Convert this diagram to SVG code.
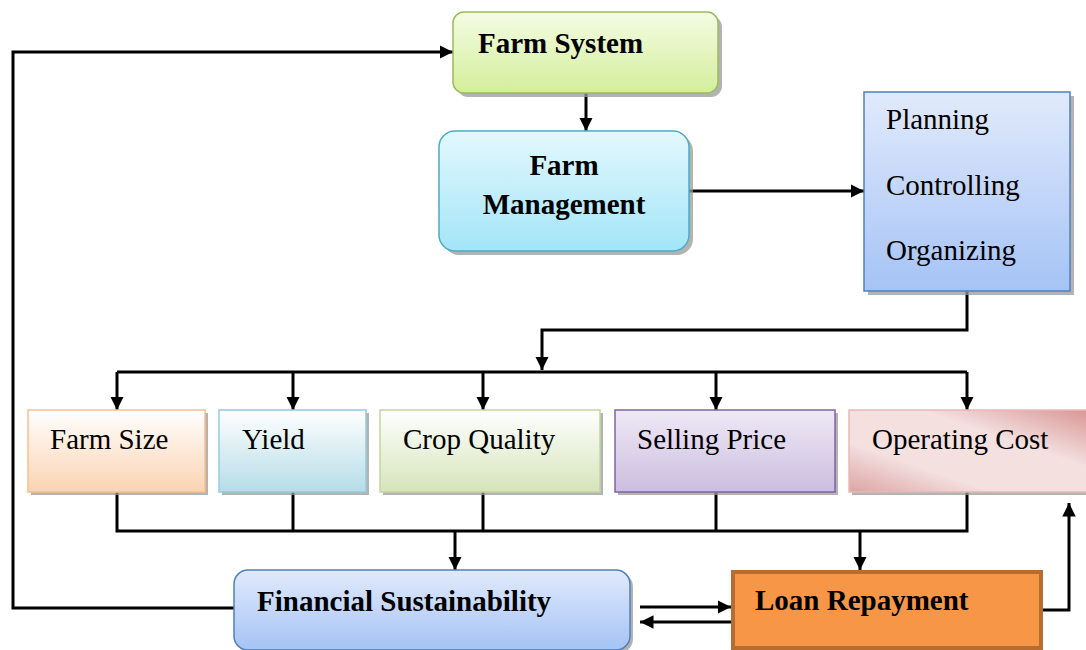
<svg xmlns="http://www.w3.org/2000/svg" width="1086" height="650" viewBox="0 0 1086 650">
<defs>
<linearGradient id="gGreen" x1="0" y1="0" x2="0" y2="1"><stop offset="0" stop-color="#f4fce4"/><stop offset="1" stop-color="#d3ee9a"/></linearGradient>
<linearGradient id="gCyan" x1="0" y1="0" x2="0" y2="1"><stop offset="0" stop-color="#e3f8fd"/><stop offset="1" stop-color="#a3e5f8"/></linearGradient>
<linearGradient id="gBlue" x1="0" y1="0" x2="0" y2="1"><stop offset="0" stop-color="#e1eafc"/><stop offset="1" stop-color="#a5c3f5"/></linearGradient>
<linearGradient id="gPeach" x1="0" y1="0" x2="0" y2="1"><stop offset="0" stop-color="#ffffff"/><stop offset="1" stop-color="#fbd3b1"/></linearGradient>
<linearGradient id="gAqua" x1="0" y1="0" x2="0" y2="1"><stop offset="0" stop-color="#ffffff"/><stop offset="1" stop-color="#b5dce7"/></linearGradient>
<linearGradient id="gOlive" x1="0" y1="0" x2="0" y2="1"><stop offset="0" stop-color="#ffffff"/><stop offset="1" stop-color="#d6e4ba"/></linearGradient>
<linearGradient id="gPurple" x1="0" y1="0" x2="0" y2="1"><stop offset="0" stop-color="#efe9f6"/><stop offset="1" stop-color="#cbbde0"/></linearGradient>
<linearGradient id="gPink" x1="0" y1="1" x2="1" y2="0"><stop offset="0" stop-color="#dca4a3"/><stop offset="0.3" stop-color="#f3e0df"/><stop offset="0.65" stop-color="#f3e0df"/><stop offset="1" stop-color="#d99594"/></linearGradient>
<marker id="ah" viewBox="0 0 10 10" refX="10" refY="5" markerWidth="4.5" markerHeight="4.5" markerUnits="strokeWidth" orient="auto"><path d="M0,0 L10,5 L0,10 z" fill="#000"/></marker>
</defs>
<style>
.sh{fill:#9a9a9a;opacity:0.75}
.b{font-family:"Liberation Serif","Times New Roman",serif;font-weight:bold;font-size:29px;fill:#000}
.r{font-family:"Liberation Serif","Times New Roman",serif;font-size:29px;fill:#000}
.c{fill:none;stroke:#000;stroke-width:3}
.a{fill:none;stroke:#000;stroke-width:3;marker-end:url(#ah)}
</style>
<rect width="1086" height="650" fill="#fff"/>

<g id="connectors">
<path class="a" d="M586,93 V131"/>
<path class="a" d="M689,191 H864"/>
<path class="a" d="M234,608 H13 V52 H453"/>
<path class="a" d="M967,291 V330 H542 V370"/>
<path class="c" d="M117,372 H967"/>
<path class="a" d="M117,372 V410"/>
<path class="a" d="M293,372 V410"/>
<path class="a" d="M483,372 V410"/>
<path class="a" d="M716,372 V410"/>
<path class="a" d="M967,372 V410"/>
<path class="c" d="M117,492 V531 H967 V492"/>
<path class="c" d="M293,492 V531"/>
<path class="c" d="M483,492 V531"/>
<path class="c" d="M716,492 V531"/>
<path class="a" d="M455,531 V570"/>
<path class="a" d="M860,531 V570"/>
<path class="a" d="M640,607 H731"/>
<path class="a" d="M731,622 H640"/>
<path class="a" d="M1043,610 H1069 V503"/>
</g>

<g id="farm-system">
<rect class="sh" x="457" y="16" width="265" height="81" rx="11"/>
<rect x="453" y="12" width="265" height="81" rx="11" fill="url(#gGreen)" stroke="#9bbb59" stroke-width="1.5"/>
<text class="b" x="478" y="53">Farm System</text>
</g>

<g id="farm-management">
<rect class="sh" x="443" y="135" width="250" height="120" rx="16"/>
<rect x="439" y="131" width="250" height="120" rx="16" fill="url(#gCyan)" stroke="#4bacc6" stroke-width="1.5"/>
<text class="b" x="564" y="175" text-anchor="middle">Farm</text>
<text class="b" x="564" y="214" text-anchor="middle">Management</text>
</g>

<g id="functions">
<rect class="sh" x="868" y="96" width="206" height="199"/>
<rect x="864" y="92" width="206" height="199" fill="url(#gBlue)" stroke="#4f81bd" stroke-width="1.5"/>
<text class="r" x="886" y="129">Planning</text>
<text class="r" x="886" y="195">Controlling</text>
<text class="r" x="886" y="260">Organizing</text>
</g>

<g id="farm-size">
<rect class="sh" x="31" y="413" width="177" height="82"/>
<rect x="28" y="410" width="177" height="82" fill="url(#gPeach)" stroke="#fac08f" stroke-width="1.5"/>
<text class="r" x="50" y="449">Farm Size</text>
</g>

<g id="yield">
<rect class="sh" x="222" y="413" width="147" height="82"/>
<rect x="219" y="410" width="147" height="82" fill="url(#gAqua)" stroke="#92cddc" stroke-width="1.5"/>
<text class="r" x="242" y="449">Yield</text>
</g>

<g id="crop-quality">
<rect class="sh" x="383" y="413" width="220" height="82"/>
<rect x="380" y="410" width="220" height="82" fill="url(#gOlive)" stroke="#c3d69b" stroke-width="1.5"/>
<text class="r" x="403" y="449">Crop Quality</text>
</g>

<g id="selling-price">
<rect class="sh" x="618" y="413" width="220" height="82"/>
<rect x="615" y="410" width="220" height="82" fill="url(#gPurple)" stroke="#8064a2" stroke-width="1.5"/>
<text class="r" x="637" y="449">Selling Price</text>
</g>

<g id="operating-cost">
<rect class="sh" x="852" y="413" width="240" height="82"/>
<rect x="849" y="410" width="240" height="82" fill="url(#gPink)" stroke="#e6b9b8" stroke-width="1.5"/>
<text class="r" x="872" y="449">Operating Cost</text>
</g>

<g id="financial-sustainability">
<rect class="sh" x="237" y="573" width="396" height="80" rx="14"/>
<rect x="234" y="570" width="396" height="80" rx="14" fill="url(#gBlue)" stroke="#4f81bd" stroke-width="1.5"/>
<text class="b" x="257" y="611">Financial Sustainability</text>
</g>

<g id="loan-repayment">
<rect x="733" y="572" width="308" height="76" fill="#f79646" stroke="#b66d31" stroke-width="4"/>
<text class="b" x="755" y="610">Loan Repayment</text>
</g>
</svg>
